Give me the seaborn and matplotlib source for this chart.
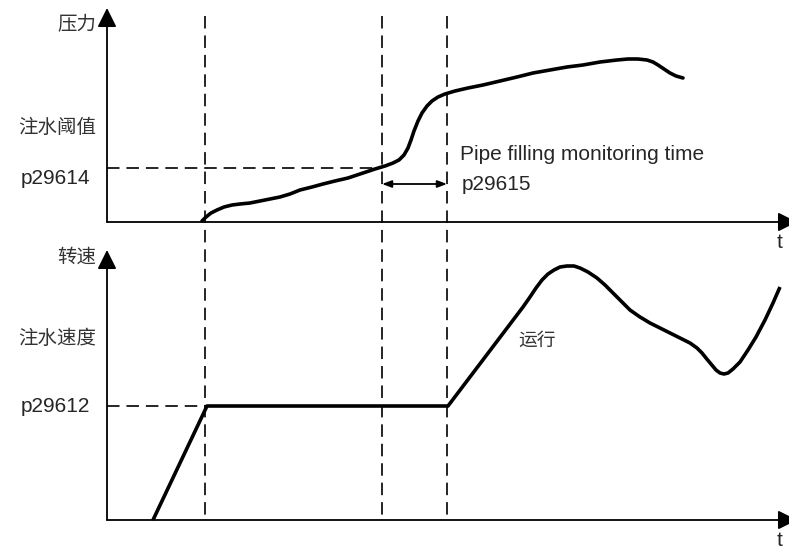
import matplotlib
matplotlib.use("Agg")
import matplotlib.pyplot as plt
import seaborn as sns
import pandas as pd

# Diagram drawn in picture coordinates (x right, y down)
# top panel: pressure curve
p_t = [202, 206, 211, 217, 224, 232, 240, 250, 260, 270, 280, 290, 300, 312, 323, 335,
       348, 363, 375, 385, 393, 399, 404, 408, 411, 414, 418, 422, 427, 432, 438, 445,
       455, 468, 483, 500, 517, 533, 550, 567, 583, 600, 617, 628, 638, 647, 653, 658,
       664, 670, 676, 683]
p_val = [221, 217, 213, 210, 207, 205, 204, 203, 201, 199, 197, 194, 190, 187, 184, 181,
         178, 173, 169, 166, 163, 160, 155, 148, 140, 131, 121, 113, 106, 101, 97, 94,
         91, 88, 85, 81, 77, 73, 70, 67, 65, 62, 60, 59, 59, 60, 62, 65,
         69, 73, 76, 78]

# bottom panel: speed curve
n_t = [153, 207, 448, 523, 530, 536, 542, 548, 554, 560, 567, 574, 580, 588, 597, 605,
       613, 621, 630, 640, 650, 660, 670, 680, 690, 697, 702, 706, 711, 716, 720, 724,
       728, 733, 740, 748, 756, 765, 773, 780]
n_val = [520, 406, 406, 307, 297, 288, 280, 274, 270, 267, 266, 266, 268, 272, 278, 285,
         293, 301, 310, 317, 323, 328, 333, 338, 343, 348, 353, 358, 364, 370, 373, 374,
         373, 369, 362, 350, 337, 320, 303, 287]

t_marks = [205, 382, 447]          # vertical dashed time markers
p29614_level = 168
p29612_level = 406

top_axis = dict(x0=107, y_top=8, y_base=222)
bot_axis = dict(x0=107, y_top=250, y_base=520)

plt.rcParams["lines.scale_dashes"] = False
fig = plt.figure(figsize=(7.89, 5.49), dpi=100)
ax = fig.add_axes([0, 0, 1, 1])

dash = (0, (9, 5))
txt = "#262626"
cjk_col = "#333333"
cjk = ["Noto Sans CJK SC", "DejaVu Sans"]
lat = ["Liberation Sans", "DejaVu Sans"]

# curves
df_p = pd.DataFrame({"t": p_t, "v": p_val})
df_n = pd.DataFrame({"t": n_t, "v": n_val})
sns.lineplot(data=df_p, x="t", y="v", ax=ax, color="black", lw=2.6, sort=False,
             estimator=None, solid_joinstyle="round", solid_capstyle="round")
sns.lineplot(data=df_n, x="t", y="v", ax=ax, color="black", lw=2.6, sort=False,
             estimator=None, solid_joinstyle="round", solid_capstyle="butt")
ax.set_xlim(0, 789)
ax.set_ylim(549, 0)
ax.axis("off")

# axes with arrows
for a in (top_axis, bot_axis):
    ax.annotate("", xy=(a["x0"], a["y_top"]), xytext=(a["x0"], a["y_base"]),
                arrowprops=dict(arrowstyle="-|>,head_length=0.4,head_width=0.2",
                                lw=1.3, color="black", mutation_scale=29,
                                shrinkA=0, shrinkB=0))
    ax.annotate("", xy=(797, a["y_base"]), xytext=(a["x0"], a["y_base"]),
                arrowprops=dict(arrowstyle="-|>,head_length=0.4,head_width=0.2",
                                lw=1.3, color="black", mutation_scale=29,
                                shrinkA=0, shrinkB=0), annotation_clip=False)
    ax.text(780, a["y_base"] + 21, "t", fontsize=15, family=lat, color=txt,
            ha="center", va="center")

# dashed guides
for x in t_marks:
    ax.plot([x, x], [16, 521], color="black", lw=1.2, ls=dash)
ax.plot([107, 382], [p29614_level] * 2, color="black", lw=1.2, ls=dash)
ax.plot([107, 205], [p29612_level] * 2, color="black", lw=1.2, ls=dash)

# monitoring time arrow
ax.annotate("", xy=(382, 184), xytext=(447, 184),
            arrowprops=dict(arrowstyle="<|-|>,head_length=0.4,head_width=0.15",
                            lw=1.3, color="black", mutation_scale=14,
                            shrinkA=0, shrinkB=0))

# labels
ax.text(96, 25, "压力", fontsize=14, family=cjk, color=cjk_col, ha="right", va="center")
ax.text(96, 127, "注水阈值", fontsize=14, family=cjk, color=cjk_col, ha="right", va="center")
ax.text(90, 178, "p29614", fontsize=15, family=lat, color=txt, ha="right", va="center")
ax.text(96, 257, "转速", fontsize=14, family=cjk, color=cjk_col, ha="right", va="center")
ax.text(96, 338, "注水速度", fontsize=14, family=cjk, color=cjk_col, ha="right", va="center")
ax.text(90, 407, "p29612", fontsize=15, family=lat, color=txt, ha="right", va="center")
ax.text(460, 155, "Pipe filling monitoring time", fontsize=15, family=lat, color=txt,
        ha="left", va="center")
ax.text(462, 185, "p29615", fontsize=15, family=lat, color=txt, ha="left", va="center")
ax.text(537, 340, "运行", fontsize=13.5, family=cjk, color=cjk_col, ha="center", va="center")

fig.savefig("out.png", dpi=100)
